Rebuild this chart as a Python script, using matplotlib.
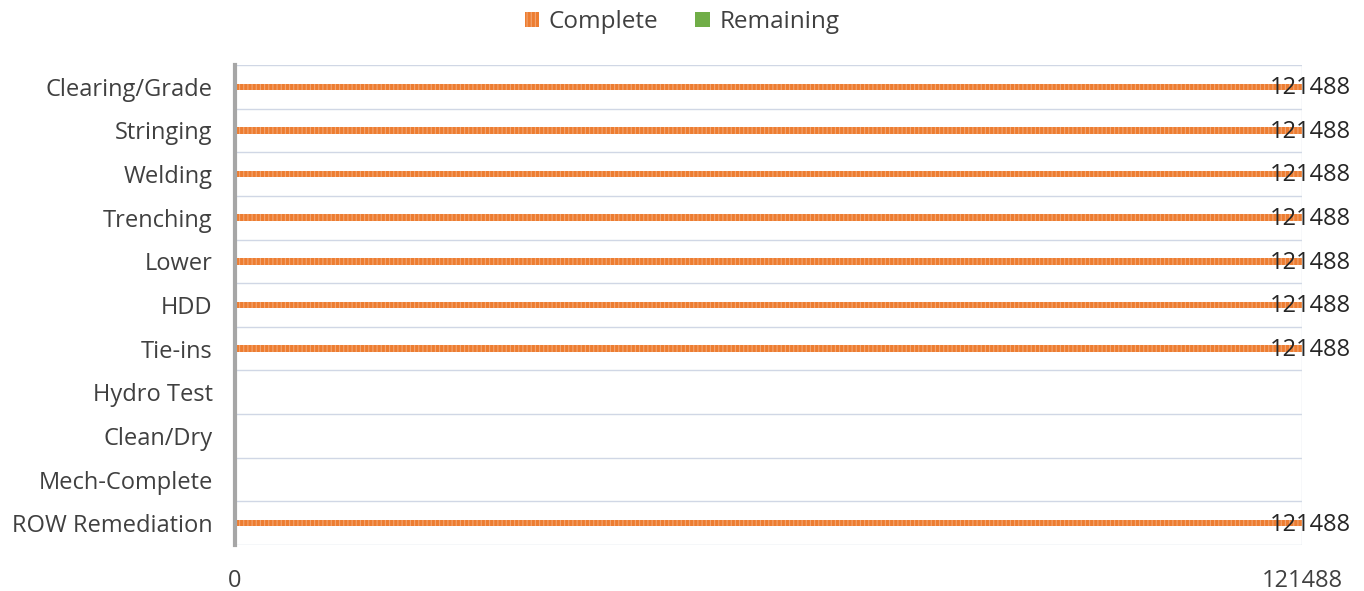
import numpy as np
import matplotlib.pyplot as plt

plt.rcParams['font.family'] = ['Open Sans', 'DejaVu Sans']

# data
categories = ["Clearing/Grade", "Stringing", "Welding", "Trenching", "Lower", "HDD",
              "Tie-ins", "Hydro Test", "Clean/Dry", "Mech-Complete", "ROW Remediation"]
complete = [121488, 121488, 121488, 121488, 121488, 121488, 121488, 0, 0, 0, 121488]
remaining = [0, 0, 0, 0, 0, 0, 0, 0, 0, 0, 0]
total = 121488

fig = plt.figure(figsize=(13.64, 5.91), dpi=100)
ax = fig.add_axes([0.1723, 0.0778, 0.7822, 0.8122])

y = np.arange(len(categories))
orange = "#ED7D31"
green = "#70AD47"

plt.rcParams['hatch.linewidth'] = 0.8
ax.barh(y, complete, height=0.15, color=orange, edgecolor="#F3A673",
        hatch="||||", linewidth=0, label="Complete")
ax.barh(y, remaining, left=complete, height=0.15, color=green, linewidth=0,
        label="Remaining")

# data labels at bar end
for yi, v in zip(y, complete):
    if v > 0:
        ax.annotate(str(v), xy=(v, yi), xytext=(6, -1), textcoords="offset points",
                    ha="center", va="center", fontsize=17, color="#262626")

ax.set_xlim(0, total)
ax.set_ylim(len(categories) - 0.5, -0.5)
ax.set_yticks(y)
ax.set_yticklabels(categories, fontsize=17, color="#404040")
ax.set_xticks([0, total])
ax.set_xticklabels(["0", str(total)], fontsize=17, color="#404040")
ax.tick_params(axis="both", length=0)
ax.tick_params(axis="y", pad=16)
ax.tick_params(axis="x", pad=17)

# horizontal gridlines between categories
for b in np.arange(-0.5, len(categories), 1.0):
    ax.axhline(b, color="#D0D7E5", linewidth=1.0, zorder=0)
ax.axvline(total, color="#D9DEE8", linewidth=1.0, zorder=0)

for s in ["top", "right", "bottom"]:
    ax.spines[s].set_visible(False)
ax.spines["left"].set_color("#A6A6A6")
ax.spines["left"].set_linewidth(3)

fig.legend(loc="upper center", bbox_to_anchor=(0.5, 1.02), ncol=2, frameon=False,
           fontsize=17.5, handlelength=0.6, handleheight=0.6, columnspacing=1.5,
           handletextpad=0.4, labelcolor="#404040")

fig.savefig("out.png", dpi=100)
